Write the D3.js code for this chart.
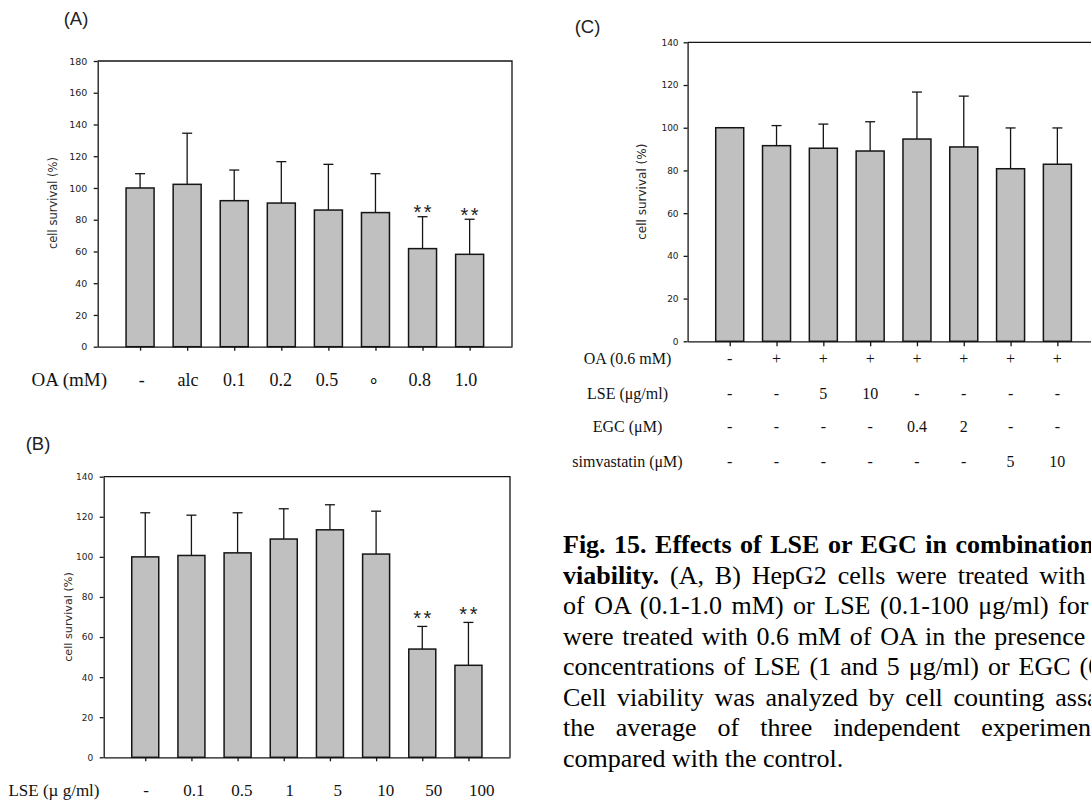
<!DOCTYPE html>
<html>
<head>
<meta charset="utf-8">
<script src="https://cdn.jsdelivr.net/npm/d3@7"></script>
<style>
  html, body { margin: 0; padding: 0; background: #fff; overflow: hidden; }
  svg { display: block; }
</style>
</head>
<body>
<svg id="fig" width="1091" height="805"></svg>
<script>
// ---- Panel A: oleic acid (OA) dose series ----
const oaLabels   = ["-", "alc", "0.1", "0.2", "0.5", "\u2218", "0.8", "1.0"];
const oaSurvival = [100, 102.3, 92, 90.5, 86.1, 84.5, 61.8, 58.2];
const oaSD       = [9, 32.2, 19.3, 26.1, 28.8, 24.5, 20.1, 22.1];
const oaSig      = ["", "", "", "", "", "", "**", "**"];
const oaTicks    = [0, 20, 40, 60, 80, 100, 120, 140, 160, 180];

// ---- Panel B: LSE dose series ----
const lseLabels   = ["-", "0.1", "0.5", "1", "5", "10", "50", "100"];
const lseSurvival = [100, 100.7, 102, 108.9, 113.5, 101.4, 54, 45.9];
const lseSD       = [22, 20.1, 20, 15.1, 12.5, 21.4, 11.3, 21.4];
const lseSig      = ["", "", "", "", "", "", "**", "**"];
const lseTicks    = [0, 20, 40, 60, 80, 100, 120, 140];

// ---- Panel C: OA 0.6 mM combined with LSE, EGC or simvastatin ----
const comboSurvival = [100, 91.6, 90.4, 89.1, 94.7, 91, 80.8, 82.9];
const comboSD       = [0, 9.4, 11.3, 13.7, 22, 23.8, 19.1, 17];
const comboTicks    = [0, 20, 40, 60, 80, 100, 120, 140];
const rowNames      = ["OA (0.6 mM)", "LSE (\u03bcg/ml)", "EGC (\u03bcM)", "simvastatin (\u03bcM)"];
const rowOA         = ["-", "+", "+", "+", "+", "+", "+", "+"];
const rowLSE        = ["-", "-", "5", "10", "-", "-", "-", "-"];
const rowEGC        = ["-", "-", "-", "-", "0.4", "2", "-", "-"];
const rowSimva      = ["-", "-", "-", "-", "-", "-", "5", "10"];

// ---- Figure legend ----
const captionLines = [
  "Fig. 15. Effects of LSE or EGC in combination",
  "(A, B) HepG2 cells were treated with",
  "of OA (0.1-1.0 mM) or LSE (0.1-100 \u03bcg/ml) for",
  "were treated with 0.6 mM of OA in the presence",
  "concentrations of LSE (1 and 5 \u03bcg/ml) or EGC (0",
  "Cell viability was analyzed by cell counting assay",
  "the average of three independent experiments",
  "compared with the control."
];

const svg = d3.select("#fig");
const INK = "#151515";
const BAR = "#c0c0c0";

function barPanel(o) {
  const g = svg.append("g");
  const n = o.values.length;
  const x = d3.scalePoint().domain(d3.range(n)).range(o.xr).padding(0.9);
  const y = d3.scaleLinear().domain([0, o.ymax]).range(o.yr);

  // top and right edges of the plot frame
  g.append("path")
    .attr("d", `M${o.xr[0]},${o.yr[1]}H${o.xr[1]}V${o.yr[0]}`)
    .attr("fill", "none").attr("stroke", INK).attr("stroke-width", 1.3);

  // y axis
  const ya = g.append("g")
    .attr("transform", `translate(${o.xr[0]},0)`)
    .call(d3.axisLeft(y).tickValues(o.ticks).tickSize(4).tickPadding(o.pad).tickSizeOuter(0));
  ya.selectAll("path,line").attr("stroke", INK).attr("stroke-width", 1.3);
  ya.selectAll("text")
    .attr("font-family", "DejaVu Sans, Verdana, sans-serif")
    .attr("font-size", o.tickFont).attr("fill", "#222");

  // x axis with a tick under every bar
  const xa = g.append("g")
    .attr("transform", `translate(0,${o.yr[0]})`)
    .call(d3.axisBottom(x).tickSize(o.xtick).tickFormat("").tickSizeOuter(0));
  xa.selectAll("path,line").attr("stroke", INK).attr("stroke-width", 1.3);

  // error bars (upper SD only)
  const eb = g.append("g").attr("stroke", INK).attr("stroke-width", 1.3);
  o.values.forEach((v, i) => {
    const sd = o.errs[i];
    if (!sd) return;
    const cx = x(i), top = y(v + sd);
    eb.append("line").attr("x1", cx).attr("x2", cx).attr("y1", y(v)).attr("y2", top);
    eb.append("line").attr("x1", cx - 5).attr("x2", cx + 5).attr("y1", top).attr("y2", top);
  });

  // bars
  g.append("g").selectAll("rect").data(o.values).join("rect")
    .attr("x", (d, i) => x(i) - o.barW / 2)
    .attr("y", d => y(d))
    .attr("width", o.barW)
    .attr("height", d => y(0) - y(d))
    .attr("fill", BAR).attr("stroke", INK).attr("stroke-width", 1.5);

  // significance marks
  if (o.sig) {
    g.append("g").selectAll("text").data(o.sig).join("text")
      .attr("x", (d, i) => x(i) + 1.2)
      .attr("y", (d, i) => y(o.values[i] + o.errs[i]) + o.starDy)
      .attr("text-anchor", "middle")
      .attr("font-family", "Liberation Sans, Arial, sans-serif")
      .attr("font-size", 20).attr("letter-spacing", 2.5)
      .attr("fill", "#222")
      .text(d => d);
  }

  // y axis title
  g.append("text")
    .attr("transform", `translate(${o.titleX},${o.titleY}) rotate(-90)`)
    .attr("text-anchor", "middle").attr("dominant-baseline", "central")
    .attr("font-family", "DejaVu Sans, Verdana, sans-serif")
    .attr("font-size", o.titleFont).attr("fill", "#2a2a2a")
    .text("cell survival (%)");

  return { x, y };
}

function panelTag(label, cx, cy) {
  svg.append("text")
    .attr("x", cx).attr("y", cy)
    .attr("text-anchor", "middle").attr("dominant-baseline", "central")
    .attr("font-family", "Liberation Sans, Arial, sans-serif")
    .attr("font-size", 18.5).attr("fill", "#222")
    .text(label);
}

const serif = "Liberation Serif, Times New Roman, serif";

// ---------- Panel A ----------
barPanel({
  values: oaSurvival, errs: oaSD, sig: oaSig, ticks: oaTicks, ymax: 180,
  xr: [97.7, 512], yr: [346.7, 61], barW: 28, pad: 6.4, xtick: 4,
  tickFont: 9.5, titleX: 52.7, titleY: 203, titleFont: 11.5, starDy: 2.5
});
panelTag("(A)", 76, 18);
const oaLabelX = d3.scalePoint().domain(d3.range(oaLabels.length)).range([141.7, 466]);
svg.append("text").attr("x", 69.3).attr("y", 385.5).attr("text-anchor", "middle")
  .attr("font-family", serif).attr("font-size", 19).attr("fill", "#111").text("OA (mM)");
svg.append("g").selectAll("text").data(oaLabels).join("text")
  .attr("x", (d, i) => oaLabelX(i)).attr("y", 385.5)
  .attr("text-anchor", "middle")
  .attr("font-family", serif).attr("font-size", 18).attr("fill", "#111")
  .text(d => d);

// ---------- Panel B ----------
barPanel({
  values: lseSurvival, errs: lseSD, sig: lseSig, ticks: lseTicks, ymax: 140,
  xr: [103.7, 510], yr: [757.3, 476.7], barW: 27, pad: 6.4, xtick: 4,
  tickFont: 9, titleX: 68, titleY: 617, titleFont: 11.2, starDy: -1.2
});
panelTag("(B)", 38, 443);
const lseLabelX = d3.scalePoint().domain(d3.range(lseLabels.length)).range([146, 481.7]);
svg.append("text").attr("x", 54).attr("y", 795.6).attr("text-anchor", "middle")
  .attr("font-family", serif).attr("font-size", 17).attr("fill", "#111").text("LSE (\u00b5 g/ml)");
svg.append("g").selectAll("text").data(lseLabels).join("text")
  .attr("x", (d, i) => lseLabelX(i)).attr("y", 795.6)
  .attr("text-anchor", "middle")
  .attr("font-family", serif).attr("font-size", 17).attr("fill", "#111")
  .text(d => d);

// ---------- Panel C ----------
const pc = barPanel({
  values: comboSurvival, errs: comboSD, sig: null, ticks: comboTicks, ymax: 140,
  xr: [687.6, 1099.5], yr: [341.3, 42.3], barW: 28, pad: 5, xtick: 5,
  tickFont: 9, titleX: 642, titleY: 191.7, titleFont: 12
});
panelTag("(C)", 587.5, 26);
const rowY = [358.3, 393.3, 426.7, 461.7];
const rows = [rowOA, rowLSE, rowEGC, rowSimva];
rowNames.forEach((name, r) => {
  const base = rowY[r] + 5.3;
  svg.append("text").attr("x", 627.5).attr("y", base).attr("text-anchor", "middle")
    .attr("font-family", serif).attr("font-size", 16).attr("fill", "#111").text(name);
  svg.append("g").selectAll("text").data(rows[r]).join("text")
    .attr("x", (d, i) => pc.x(i)).attr("y", base)
    .attr("text-anchor", "middle")
    .attr("font-family", serif).attr("font-size", 16).attr("fill", "#111")
    .text(d => d);
});

// ---------- Legend text (justified column, running past the right edge) ----------
const capX = 563, capY0 = 553, capStep = 30.5;
const capSpacing = [2, 4.4, 3, 2.2, 2.5, 4.2, 14.5, 0];
captionLines.forEach((line, i) => {
  const t = svg.append("text")
    .attr("x", capX).attr("y", capY0 + i * capStep)
    .attr("font-family", serif).attr("font-size", 26).attr("fill", "#000")
    .attr("word-spacing", capSpacing[i]);
  if (i === 0) {
    t.attr("font-weight", "bold").text(line);
  } else if (i === 1) {
    t.append("tspan").attr("font-weight", "bold").text("viability.");
    t.append("tspan").text(" " + line);
  } else {
    t.text(line);
  }
});
</script>
</body>
</html>
